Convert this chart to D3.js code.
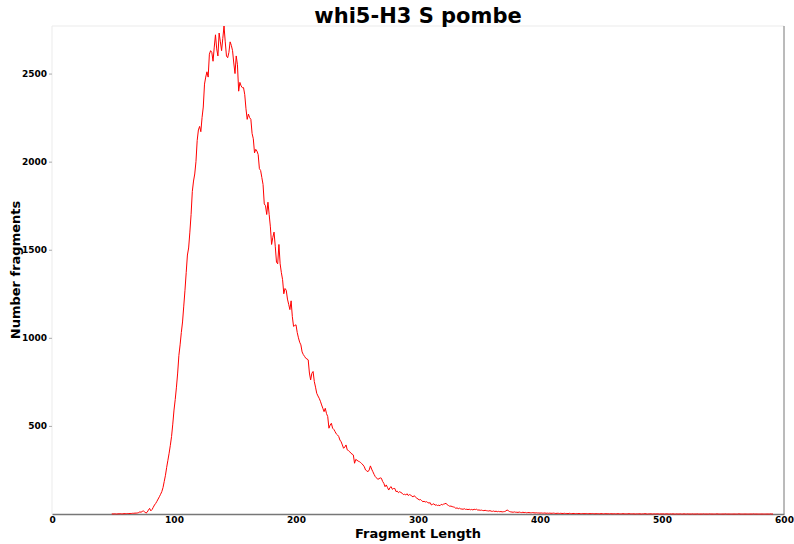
<!DOCTYPE html>
<html>
<head>
<meta charset="utf-8">
<script src="https://cdn.jsdelivr.net/npm/d3@7"></script>
<style>
  body { margin: 0; background: #fff; }
  svg { font-family: "DejaVu Sans", sans-serif; }
</style>
</head>
<body>
<svg id="chart"></svg>
<script>
const title = "whi5-H3 S pombe";
const xLabel = "Fragment Length";
const yLabel = "Number fragments";
const xTicks = [0, 100, 200, 300, 400, 500, 600];
const yTicks = [500, 1000, 1500, 2000, 2500];
const firstLength = 49;
// counts per fragment length, starting at firstLength
const counts = [
  1,0,1,1,0,1,1,2,1,1,2,2,
  2,3,2,3,3,4,4,5,5,6,
  8,12,10,15,17,12,5,10,22,32,
  18,25,38,51,60,72,85,98,112,127,
  150,185,220,265,305,345,390,440,510,590,
  650,720,800,900,960,1030,1090,1180,1270,1370,
  1470,1510,1600,1700,1830,1890,1930,2000,2120,2180,
  2200,2170,2250,2310,2440,2480,2510,2480,2610,2630,
  2620,2570,2650,2720,2640,2600,2730,2680,2630,2700,
  2770,2680,2600,2590,2620,2680,2660,2630,2560,2500,
  2600,2550,2400,2450,2430,2420,2420,2380,2300,2240,
  2270,2250,2240,2160,2130,2050,2070,2060,2040,1960,
  1950,1910,1870,1760,1750,1700,1770,1700,1630,1530,
  1570,1600,1520,1430,1420,1530,1420,1370,1330,1250,
  1280,1270,1220,1190,1160,1210,1120,1065,1070,1074,
  1030,1000,975,960,920,905,895,884,880,875,
  800,761,799,809,752,720,685,670,657,640,
  619,600,581,600,570,553,487,505,515,487,
  480,468,455,449,440,420,410,392,373,380,
  392,364,360,354,345,340,335,288,310,305,
  300,297,292,285,278,268,250,245,240,250,
  273,255,240,225,212,205,197,200,205,203,
  185,174,155,165,150,136,150,155,140,145,
  145,127,130,121,127,122,118,110,112,108,
  115,105,110,108,100,98,104,95,90,85,
  80,82,76,70,72,68,70,65,62,64,
  51,55,58,50,52,48,50,47,55,52,
  56,58,61,52,48,44,45,42,40,38,
  32,35,30,33,29,28,27,30,26,27,
  25,27,24,26,23,27,25,27,22,23,
  21,22,20,19,21,19,18,17,19,16,
  15,17,14,16,13,15,13,14,12,13,
  14,17,23,19,14,12,11,10,12,10,
  10,9,11,9,8,10,8,9,7,8,
  8,7,7,8,7,6,7,6,6,5,
  6,5,5,6,4,5,4,5,4,4,5,4,3,4,4,3,4,3,3,4,
  3,3,2,4,3,2,3,3,2,3,2,3,2,2,3,2,2,3,2,2,
  2,2,3,2,1,2,2,2,1,2,2,1,2,2,1,2,1,2,1,1,
  2,1,1,2,1,1,1,2,1,1,1,1,2,1,1,1,1,0,1,1,
  1,1,0,1,1,2,1,0,1,1,1,0,1,1,0,1,1,0,1,0,
  1,0,1,1,0,0,1,0,1,0,0,1,0,0,1,0,0,1,0,0,
  1,0,0,0,1,0,0,0,1,0,0,0,0,1,0,0,0,0,1,0,
  0,0,0,0,1,0,0,0,0,0,0,1,0,0,0,0,0,0,0,0,
  0,0,1,0,0,0,0,0,0,0,0,0,0,0,1,0,0,0,0,0,
  0,0,0,0,0,0,0,0,1,0,0
];

const W = 794, H = 544;
const margin = { top: 26, right: 10, bottom: 30, left: 52 };
const width = W - margin.left - margin.right,
  height = H - margin.top - margin.bottom;

const data = counts.map((c, i) => ({ len: firstLength + i, n: c }));

const svg = d3.select("#chart").attr("width", W).attr("height", H);
const g = svg.append("g").attr("transform", `translate(${margin.left},${margin.top})`);

const x = d3.scaleLinear().domain([0, 600]).range([0, width]);
const y = d3.scaleLinear().domain([0, d3.max(counts)]).range([height, 0]);

// frame
g.append("line").attr("x1", 0).attr("x2", width).attr("y1", 0).attr("y2", 0)
  .attr("stroke", "#ebebeb");
g.append("line").attr("x1", 0).attr("x2", 0).attr("y1", 0).attr("y2", height)
  .attr("stroke", "#ebebeb");
g.append("line").attr("x1", width).attr("x2", width).attr("y1", 0).attr("y2", height)
  .attr("stroke", "#777");

const xAxis = g.append("g")
  .attr("transform", `translate(0,${height})`)
  .call(d3.axisBottom(x).tickValues(xTicks).tickSize(0).tickPadding(3).tickFormat(d3.format("d")));
xAxis.select(".domain").attr("stroke", "#777").attr("stroke-width", 1.5);

const yAxis = g.append("g")
  .call(d3.axisLeft(y).tickValues(yTicks).tickSize(3).tickPadding(2).tickFormat(d3.format("d")));
yAxis.select(".domain").remove();
yAxis.selectAll(".tick line").attr("stroke", "#aaa");

g.selectAll(".tick text")
  .attr("font-family", "DejaVu Sans")
  .attr("font-weight", "bold")
  .attr("font-size", "9px")
  .attr("fill", "#000");

const line = d3.line().x((d) => x(d.len)).y((d) => y(d.n));
g.append("path")
  .datum(data)
  .attr("fill", "none")
  .attr("stroke", "red")
  .attr("stroke-width", 1)
  .attr("d", line);

svg.append("text")
  .attr("x", margin.left + width / 2)
  .attr("y", 23)
  .attr("text-anchor", "middle")
  .attr("font-weight", "bold")
  .attr("font-size", "21px")
  .text(title);

svg.append("text")
  .attr("x", margin.left + width / 2)
  .attr("y", 538)
  .attr("text-anchor", "middle")
  .attr("font-weight", "bold")
  .attr("font-size", "13px")
  .text(xLabel);

svg.append("text")
  .attr("transform", `translate(20,${margin.top + height / 2}) rotate(-90)`)
  .attr("text-anchor", "middle")
  .attr("font-weight", "bold")
  .attr("font-size", "13px")
  .text(yLabel);
</script>
</body>
</html>
